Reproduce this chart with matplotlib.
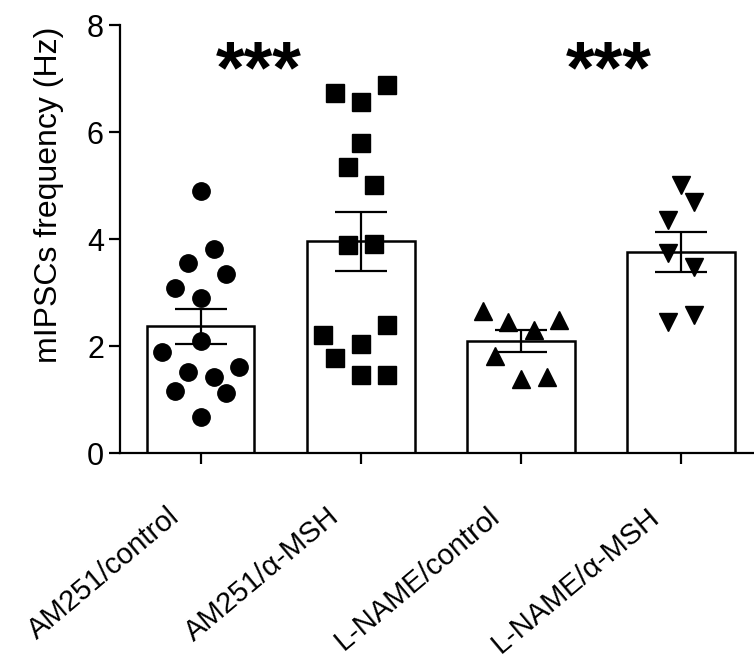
import numpy as np
import matplotlib.pyplot as plt
from matplotlib.transforms import offset_copy

plt.rcParams['font.family'] = ['Liberation Sans', 'DejaVu Sans']

groups = ['AM251/control', 'AM251/α-MSH', 'L-NAME/control', 'L-NAME/α-MSH']
means = [2.37, 3.96, 2.09, 3.76]
sems = [0.33, 0.55, 0.20, 0.38]
markers = ['o', 's', '^', 'v']

# individual cells (x offset, value)
g1_x = [0.0, 0.08, -0.08, 0.16, -0.16, 0.0, 0.0, -0.24, 0.24, -0.08, 0.08, -0.16, 0.16, 0.0]
g1_y = [4.90, 3.81, 3.55, 3.35, 3.08, 2.90, 2.09, 1.89, 1.61, 1.51, 1.42, 1.16, 1.12, 0.67]
g2_x = [0.16, -0.16, 0.0, 0.0, -0.08, 0.08, -0.08, 0.08, 0.16, -0.24, 0.0, -0.16, 0.0, 0.16]
g2_y = [6.88, 6.73, 6.56, 5.79, 5.35, 5.01, 3.89, 3.91, 2.39, 2.21, 2.04, 1.78, 1.46, 1.46]
g3_x = [-0.24, -0.08, 0.08, 0.24, -0.16, 0.0, 0.16]
g3_y = [2.65, 2.45, 2.30, 2.49, 1.81, 1.38, 1.42]
g4_x = [0.0, 0.08, -0.08, -0.08, 0.08, -0.08, 0.08]
g4_y = [5.01, 4.69, 4.36, 3.74, 3.48, 2.45, 2.58]

xs = [g1_x, g2_x, g3_x, g4_x]
ys = [g1_y, g2_y, g3_y, g4_y]

fig = plt.figure(figsize=(7.54, 6.62), dpi=100)
ax = fig.add_axes([0.159, 0.3157, 0.841, 0.6465])

pos = np.arange(len(groups))
ax.bar(pos, means, width=0.67, color='white', edgecolor='none', zorder=1)
for i in range(len(groups)):
    ax.plot(pos[i] + np.array(xs[i]), ys[i], linestyle='none', marker=markers[i],
            color='black', markersize=12.5, zorder=2)
ax.bar(pos, means, width=0.67, fill=False, edgecolor='black', linewidth=1.8, zorder=3)
ax.errorbar(pos, means, yerr=sems, fmt='none', ecolor='black', elinewidth=1.6,
            capsize=19, capthick=1.6, zorder=4)

# significance marks
ax.text(0.36, 7.1, '***', ha='center', va='center', fontsize=53, fontweight='bold')
ax.text(2.55, 7.1, '***', ha='center', va='center', fontsize=53, fontweight='bold')

ax.set_xlim(-0.506, 3.456)
ax.set_ylim(0, 8)
ax.set_yticks([0, 2, 4, 6, 8])
ax.set_ylabel('mIPSCs frequency (Hz)', fontsize=23)
ax.yaxis.set_label_coords(-0.088, 0.603)
ax.tick_params(axis='y', labelsize=22, length=8, width=1.6)
ax.tick_params(axis='x', length=8, width=1.6)
ax.set_xticks(pos)
ax.set_xticklabels([])
trans = offset_copy(ax.get_xaxis_transform(), fig=fig, x=-25, y=-60, units='dots')
for i, g in enumerate(groups):
    ax.text(pos[i], 0, g, transform=trans, rotation=40, ha='right', va='center',
            rotation_mode='anchor', fontsize=21)

for s in ['top', 'right']:
    ax.spines[s].set_visible(False)
ax.spines['left'].set_linewidth(1.6)
ax.spines['bottom'].set_linewidth(1.6)

fig.savefig('out.png', dpi=100)
